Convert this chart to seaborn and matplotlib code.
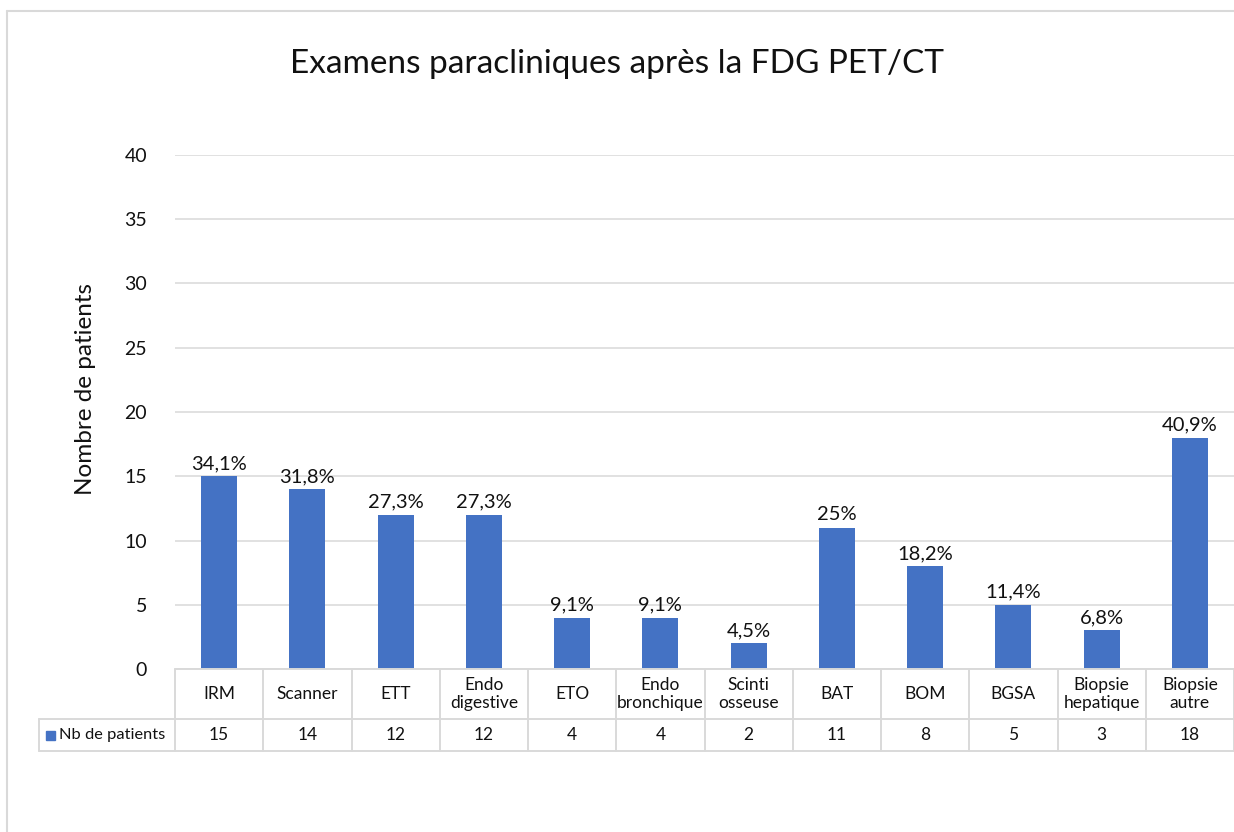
import matplotlib
matplotlib.use("Agg")
import matplotlib.pyplot as plt
import seaborn as sns
import pandas as pd
from matplotlib.lines import Line2D
from matplotlib.patches import Rectangle

# données
examens = ["IRM", "Scanner", "ETT", "Endo\ndigestive", "ETO", "Endo\nbronchique",
           "Scinti\nosseuse", "BAT", "BOM", "BGSA", "Biopsie\nhepatique", "Biopsie\nautre"]
nb_patients = [15, 14, 12, 12, 4, 4, 2, 11, 8, 5, 3, 18]
pourcentages = ["34,1%", "31,8%", "27,3%", "27,3%", "9,1%", "9,1%", "4,5%",
                "25%", "18,2%", "11,4%", "6,8%", "40,9%"]
serie = "Nb de patients"

sns.set_theme(style="white")
plt.rcParams['font.family'] = ['Lato', 'DejaVu Sans']

BLEU = "#4472C4"
GRIS = "#d9d9d9"
TXT = "#111111"

W, H = 1234, 832
fig = plt.figure(figsize=(W / 100, H / 100), dpi=100)
ax = fig.add_axes([175 / W, 1 - 669 / H, (1234 - 175) / W, (669 - 155) / H])

df = pd.DataFrame({"examen": examens, "nb": nb_patients})
sns.barplot(data=df, x="examen", y="nb", color=BLEU, width=0.41, saturation=1,
            linewidth=0, ax=ax)

ax.set_xlim(-0.5, len(examens) - 0.5)
ax.set_ylim(0, 40)
ax.set_yticks(range(0, 41, 5))
ax.yaxis.grid(True, color=GRIS, lw=1.1)
ax.set_axisbelow(True)
for s in ax.spines.values():
    s.set_visible(False)
ax.tick_params(axis="x", bottom=False, labelbottom=False)
ax.tick_params(axis="y", left=False, pad=14, labelsize=14, labelcolor=TXT)
ax.set_xlabel("")
ax.set_ylabel("")

ax.bar_label(ax.containers[0], labels=pourcentages, padding=3, fontsize=14.5, color=TXT)

# ---- tableau de données sous l'axe ----
xt = ax.get_xaxis_transform()
h_ax = 669 - 155
h1 = 50 / h_ax
h2 = 82 / h_ax
col_px = (1234 - 175) / len(examens)
x_left = -0.5 - (175 - 39) / col_px
n = len(examens)

lw = 1.4
ax.plot([-0.5, n - 0.5], [0, 0], color=GRIS, lw=lw, transform=xt, clip_on=False)
ax.plot([x_left, n - 0.5], [-h1, -h1], color=GRIS, lw=lw, transform=xt, clip_on=False)
ax.plot([x_left, n - 0.5], [-h2, -h2], color=GRIS, lw=lw, transform=xt, clip_on=False)
for i in range(n + 1):
    ax.plot([i - 0.5, i - 0.5], [0, -h2], color=GRIS, lw=lw, transform=xt, clip_on=False)
ax.plot([x_left, x_left], [-h1, -h2], color=GRIS, lw=lw, transform=xt, clip_on=False)

for i, (lab, v) in enumerate(zip(examens, nb_patients)):
    ax.text(i, -h1 / 2, lab, transform=xt, ha="center", va="center",
            fontsize=12.5, color=TXT, linespacing=1.2, clip_on=False)
    ax.text(i, -(h1 + h2) / 2, str(v), transform=xt, ha="center", va="center",
            fontsize=12.5, color=TXT, clip_on=False)

# cellule légende
fig.add_artist(Rectangle((46 / W, 1 - 740 / H), 9 / W, 9 / H, color=BLEU,
                         transform=fig.transFigure))
fig.text(59 / W, 1 - 735 / H, serie, ha="left", va="center", fontsize=11.8, color=TXT)

# titre et axe y
fig.text(617 / W, 1 - 64 / H, "Examens paracliniques après la FDG PET/CT",
         ha="center", va="center", fontsize=24, color=TXT)
fig.text(85 / W, 1 - 389 / H, "Nombre de patients", rotation=90,
         ha="center", va="center", fontsize=17.5, color=TXT)

# cadre du graphique
fig.add_artist(Line2D([7 / W, 1], [1 - 11 / H, 1 - 11 / H], color=GRIS, lw=1.5,
                      transform=fig.transFigure))
fig.add_artist(Line2D([7 / W, 7 / W], [0, 1 - 11 / H], color=GRIS, lw=1.5,
                      transform=fig.transFigure))

fig.savefig("out.png", dpi=100)
